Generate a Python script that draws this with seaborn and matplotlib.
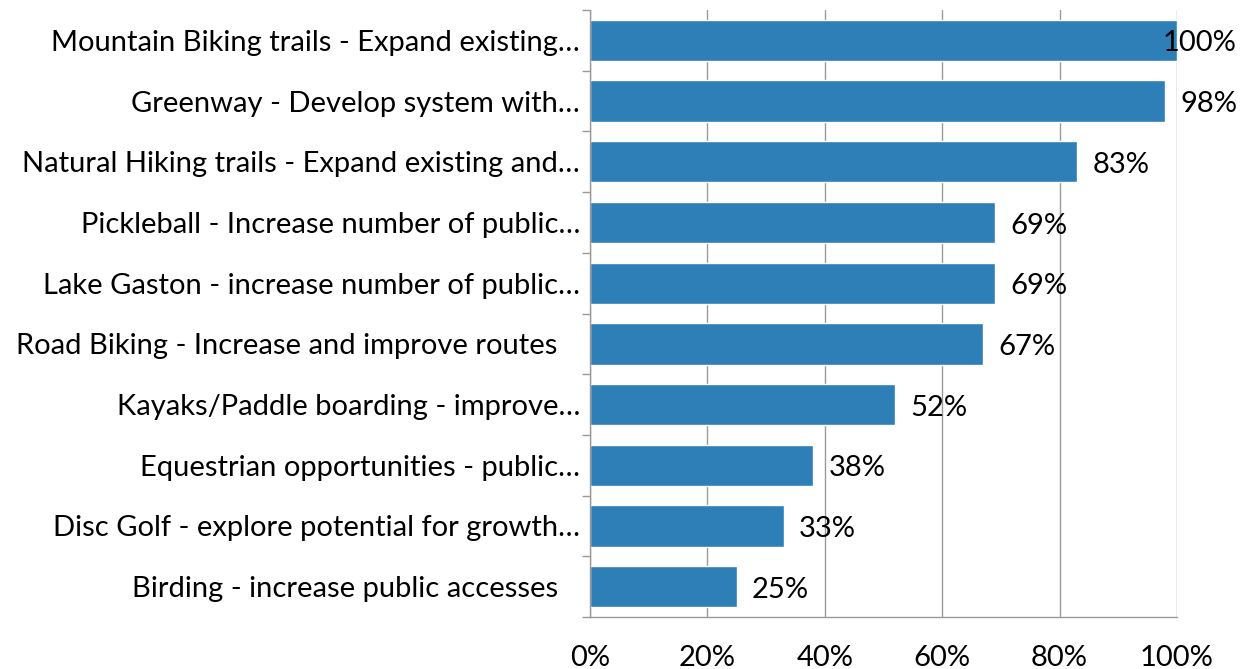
import matplotlib
matplotlib.use("Agg")
import matplotlib.pyplot as plt
import pandas as pd
import seaborn as sns
from matplotlib.ticker import FixedLocator

# Chart data
categories = [
    "Mountain Biking trails - Expand existing…",
    "Greenway - Develop system with…",
    "Natural Hiking trails - Expand existing and…",
    "Pickleball - Increase number of public…",
    "Lake Gaston - increase number of public…",
    "Road Biking - Increase and improve routes   ",
    "Kayaks/Paddle boarding - improve…",
    "Equestrian opportunities - public…",
    "Disc Golf - explore potential for growth…",
    "Birding - increase public accesses   ",
]
values = [100, 98, 83, 69, 69, 67, 52, 38, 33, 25]
x_ticks = [0, 20, 40, 60, 80, 100]

df = pd.DataFrame({"category": categories, "value": values})

sns.set_style("white")
plt.rcParams["font.family"] = ["Lato", "DejaVu Sans"]
plt.rcParams["text.color"] = "black"
plt.rcParams["xtick.color"] = "black"
plt.rcParams["ytick.color"] = "black"

fig = plt.figure(figsize=(12.51, 6.69), dpi=100)
ax = fig.add_axes([0.4716, 0.0777, 0.9408 - 0.4716, 0.985 - 0.0777])

sns.barplot(data=df, x="value", y="category", orient="h",
            color="#2E7EB8", saturation=1, width=0.68, ax=ax)

ax.set_xlim(0, 100)
ax.set_ylim(len(categories) - 0.5, -0.5)
ax.set_xticks(x_ticks)
ax.set_xticklabels([f"{t}%" for t in x_ticks])
ax.xaxis.grid(True, color="#9a9a9a", linewidth=1)
ax.set_axisbelow(True)
ax.set_xlabel("")
ax.set_ylabel("")

# tick marks between categories on the value axis
ax.yaxis.set_minor_locator(FixedLocator([i - 0.5 for i in range(len(categories) + 1)]))
ax.tick_params(axis="y", which="major", length=0, pad=7, labelsize=21, labelcolor="black")
ax.tick_params(axis="y", which="minor", length=6, color="#9a9a9a", width=1, left=True)
ax.tick_params(axis="x", which="major", length=0, pad=20, labelsize=21, labelcolor="black")

for side in ["top", "right"]:
    ax.spines[side].set_visible(False)
for side in ["left", "bottom"]:
    ax.spines[side].set_color("#9a9a9a")
    ax.spines[side].set_linewidth(1)

# data labels
for i, v in enumerate(values):
    x = v + 2.6 if v < 100 else v - 2.4
    ax.text(x, i + 0.05, f"{v}%", va="center", ha="left",
            fontsize=21, color="black", clip_on=False)

fig.savefig("out.png", dpi=100)
